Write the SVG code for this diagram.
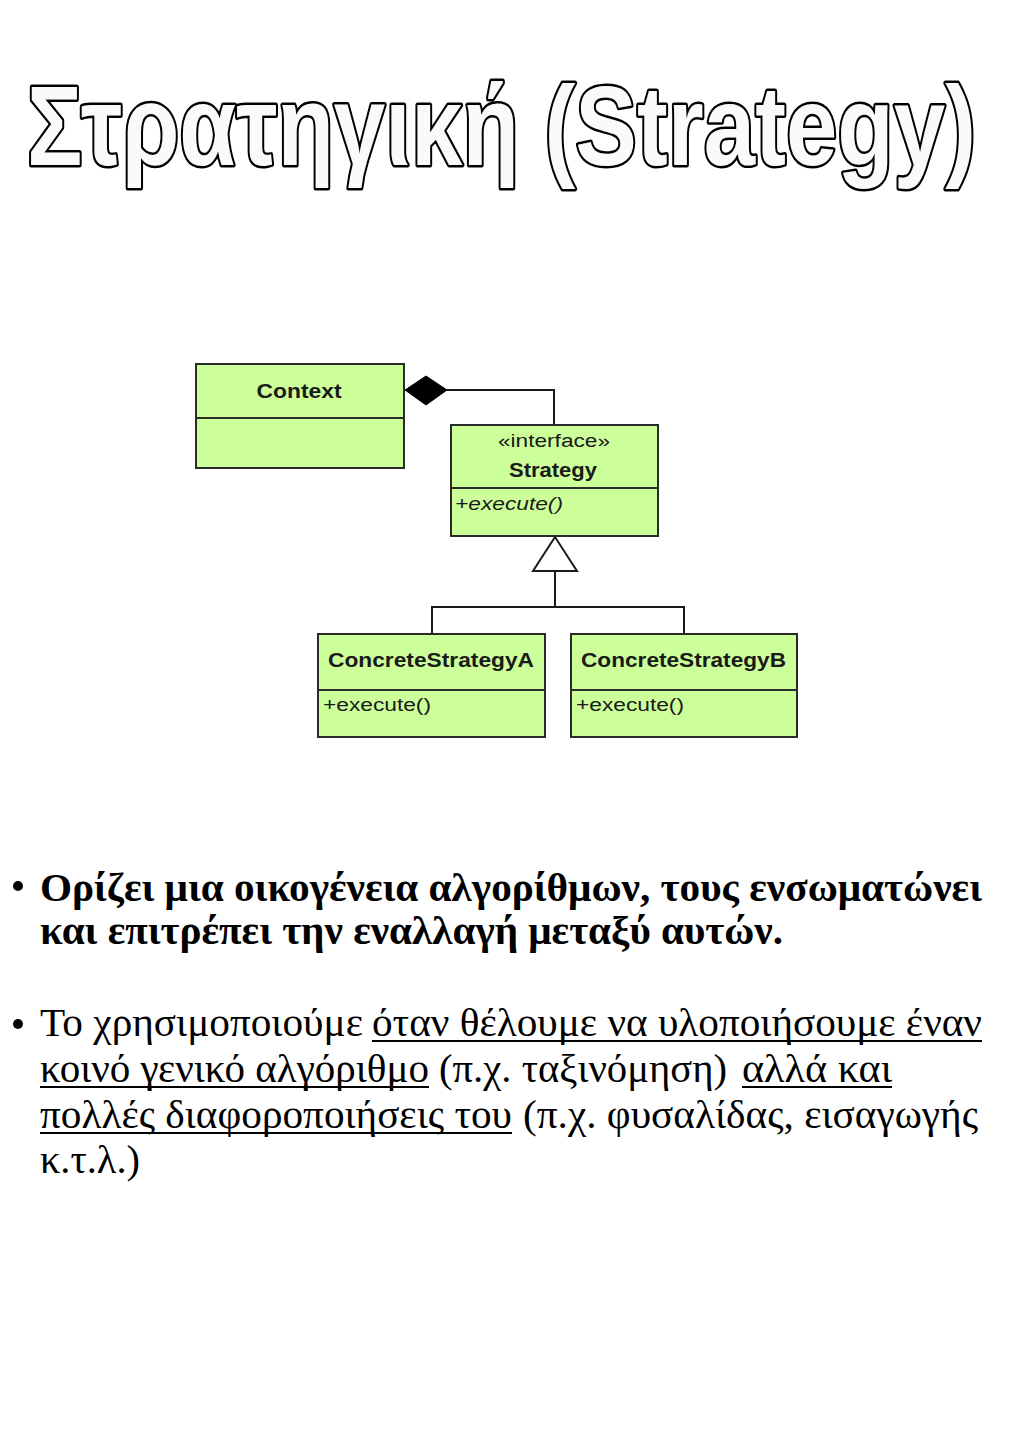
<svg xmlns="http://www.w3.org/2000/svg" width="1024" height="1448" viewBox="0 0 1024 1448">
<style>
.box{fill:#ccff99;stroke:#2a2a2a;stroke-width:2}
.div{stroke:#2a2a2a;stroke-width:2}
.name{font-family:"Liberation Sans",Arial,sans-serif;font-weight:bold;font-size:21px;fill:#1a1a1a}
.small{font-family:"Liberation Sans",Arial,sans-serif;font-size:18px;fill:#1a1a1a}
.conn{fill:none;stroke:#1a1a1a;stroke-width:2}
.title{font-family:"Liberation Sans Narrow","Liberation Sans",Arial,sans-serif;font-weight:bold;font-size:114px;fill:#fafafa;stroke:#000;stroke-width:5;paint-order:stroke;stroke-linejoin:round}
.b1{font-family:"Liberation Serif","Times New Roman",serif;font-weight:bold;font-size:40px;fill:#000}
.b2{font-family:"Liberation Serif","Times New Roman",serif;font-size:40px;fill:#000}
.ul{stroke:#000;stroke-width:2}
</style>
<rect width="1024" height="1448" fill="#fff"/>
<text class="title" x="27" y="165" textLength="949" lengthAdjust="spacingAndGlyphs">Στρατηγική (Strategy)</text>

<g id="connectors">
<path class="conn" d="M447,390 H554 V425"/>
<polygon points="405,390 426,376 447,390 426,405" fill="#000" stroke="#000" stroke-width="1"/>
<path class="conn" d="M555,571 V607 M432,634 V607 H684 V634"/>
<polygon points="555,537 533,571 577,571" fill="#fff" stroke="#1a1a1a" stroke-width="2"/>
</g>

<g id="context">
<rect class="box" x="196" y="364" width="208" height="104"/>
<line class="div" x1="196" y1="418" x2="404" y2="418"/>
<text class="name" x="299" y="398" text-anchor="middle" textLength="85" lengthAdjust="spacingAndGlyphs">Context</text>
</g>

<g id="strategy">
<rect class="box" x="451" y="425" width="207" height="111"/>
<line class="div" x1="451" y1="488" x2="658" y2="488"/>
<text class="small" x="554" y="447" text-anchor="middle" textLength="112" lengthAdjust="spacingAndGlyphs">«interface»</text>
<text class="name" x="553" y="477" text-anchor="middle" textLength="88" lengthAdjust="spacingAndGlyphs">Strategy</text>
<text class="small" x="455" y="510" font-style="italic" textLength="108" lengthAdjust="spacingAndGlyphs">+execute()</text>
</g>

<g id="concreteA">
<rect class="box" x="318" y="634" width="227" height="103"/>
<line class="div" x1="318" y1="690" x2="545" y2="690"/>
<text class="name" x="328" y="667" textLength="206" lengthAdjust="spacingAndGlyphs">ConcreteStrategyA</text>
<text class="small" x="323" y="711" textLength="108" lengthAdjust="spacingAndGlyphs">+execute()</text>
</g>

<g id="concreteB">
<rect class="box" x="571" y="634" width="226" height="103"/>
<line class="div" x1="571" y1="690" x2="797" y2="690"/>
<text class="name" x="581" y="667" textLength="205" lengthAdjust="spacingAndGlyphs">ConcreteStrategyB</text>
<text class="small" x="576" y="711" textLength="108" lengthAdjust="spacingAndGlyphs">+execute()</text>
</g>

<g id="bullet1">
<circle cx="18" cy="886" r="5" fill="#000"/>
<text class="b1" x="40" y="901" textLength="942" lengthAdjust="spacingAndGlyphs">Ορίζει μια οικογένεια αλγορίθμων, τους ενσωματώνει</text>
<text class="b1" x="40" y="944" textLength="743" lengthAdjust="spacingAndGlyphs">και επιτρέπει την εναλλαγή μεταξύ αυτών.</text>
</g>

<g id="bullet2">
<circle cx="18" cy="1024" r="5" fill="#000"/>
<text class="b2" x="40" y="1036" textLength="323" lengthAdjust="spacingAndGlyphs">Το χρησιμοποιούμε</text>
<text class="b2" x="372" y="1036" textLength="610" lengthAdjust="spacingAndGlyphs">όταν θέλουμε να υλοποιήσουμε έναν</text>
<line class="ul" x1="372" y1="1041" x2="982" y2="1041"/>
<text class="b2" x="40" y="1082" textLength="389" lengthAdjust="spacingAndGlyphs">κοινό γενικό αλγόριθμο</text>
<line class="ul" x1="40" y1="1087" x2="429" y2="1087"/>
<text class="b2" x="439" y="1082" textLength="288" lengthAdjust="spacingAndGlyphs">(π.χ. ταξινόμηση)</text>
<text class="b2" x="742" y="1082" textLength="150" lengthAdjust="spacingAndGlyphs">αλλά και</text>
<line class="ul" x1="742" y1="1087" x2="892" y2="1087"/>
<text class="b2" x="40" y="1128" textLength="472" lengthAdjust="spacingAndGlyphs">πολλές διαφοροποιήσεις του</text>
<line class="ul" x1="40" y1="1133" x2="512" y2="1133"/>
<text class="b2" x="523" y="1128" textLength="455" lengthAdjust="spacingAndGlyphs">(π.χ. φυσαλίδας, εισαγωγής</text>
<text class="b2" x="40" y="1173" textLength="100" lengthAdjust="spacingAndGlyphs">κ.τ.λ.)</text>
</g>
</svg>
